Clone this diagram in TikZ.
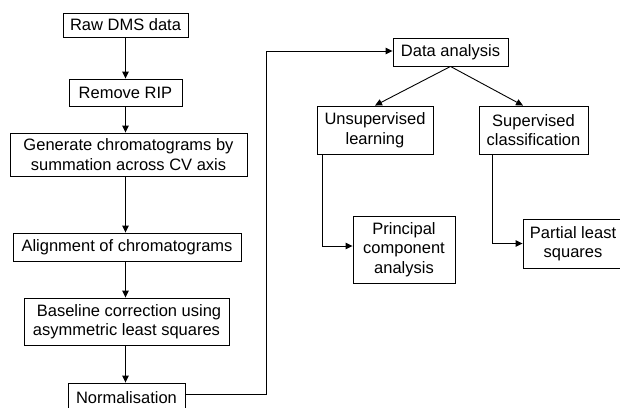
\documentclass[tikz,border=0pt]{standalone}
\usepackage{fontspec}
\setmainfont{Liberation Sans}
\usetikzlibrary{arrows.meta}
\begin{document}
\begin{tikzpicture}[x=1pt,y=-1pt,
  box/.style={draw,line width=0.9pt,inner sep=0pt,align=center,
    font=\fontsize{16.5}{19.5}\selectfont},
  conn/.style={line width=0.9pt},
  arr/.style={conn,-{Triangle[length=7pt,width=6.5pt]}}]
\useasboundingbox (0,0) rectangle (620,407);
\clip (0,0) rectangle (620,407);
\node[box,minimum width=125pt,minimum height=24pt] (raw) at (125.5,25) {Raw DMS data};
\node[box,minimum width=113pt,minimum height=27pt] (rip) at (125.5,92.5) {Remove RIP};
\node[box,minimum width=237pt,minimum height=43pt] (gen) at (128.5,154.5) {Generate chromatograms by\\summation across CV axis};
\node[box,minimum width=228pt,minimum height=28pt] (aln) at (127,247) {Alignment of chromatograms};
\node[box,minimum width=205pt,minimum height=47pt] (base) at (126.5,321.5) {\hspace*{5pt}Baseline correction using\\asymmetric least squares};
\node[box,minimum width=117pt,minimum height=30pt] (norm) at (126.5,398) {Normalisation};
\node[box,minimum width=115pt,minimum height=28pt] (da) at (450.5,52) {Data analysis};
\node[box,minimum width=116pt,minimum height=48pt] (uns) at (375,130) {Unsupervised\\learning};
\node[box,minimum width=109pt,minimum height=48pt] (sup) at (533.5,130) {Supervised\\classification};
\node[box,minimum width=102pt,minimum height=67pt] (pca) at (404,249.5) {Principal\\component\\analysis};
\node[box,minimum width=100pt,minimum height=49pt] (pls) at (573,243.5) {Partial least\\squares};
\draw[arr] (raw.south) -- (rip.north);
\draw[arr] (rip.south) -- (rip.south |- gen.north);
\draw[arr] (gen.south -| rip.south) -- (rip.south |- aln.north);
\draw[arr] (aln.south -| rip.south) -- (rip.south |- base.north);
\draw[arr] (base.south -| rip.south) -- (rip.south |- norm.north);
\draw[arr] ([yshift=4pt]norm.east) -| ([xshift=-126.5pt]da.west) |- ([yshift=1pt]da.west);
\draw[arr] (da.south) -- (uns.north);
\draw[arr] (da.south) -- ([xshift=-10.5pt]sup.north);
\draw[arr] ([xshift=6pt]uns.south west) |- ([yshift=3.5pt]pca.west);
\draw[arr] ([xshift=14pt]sup.south west) |- (pls.west);
\end{tikzpicture}
\end{document}
